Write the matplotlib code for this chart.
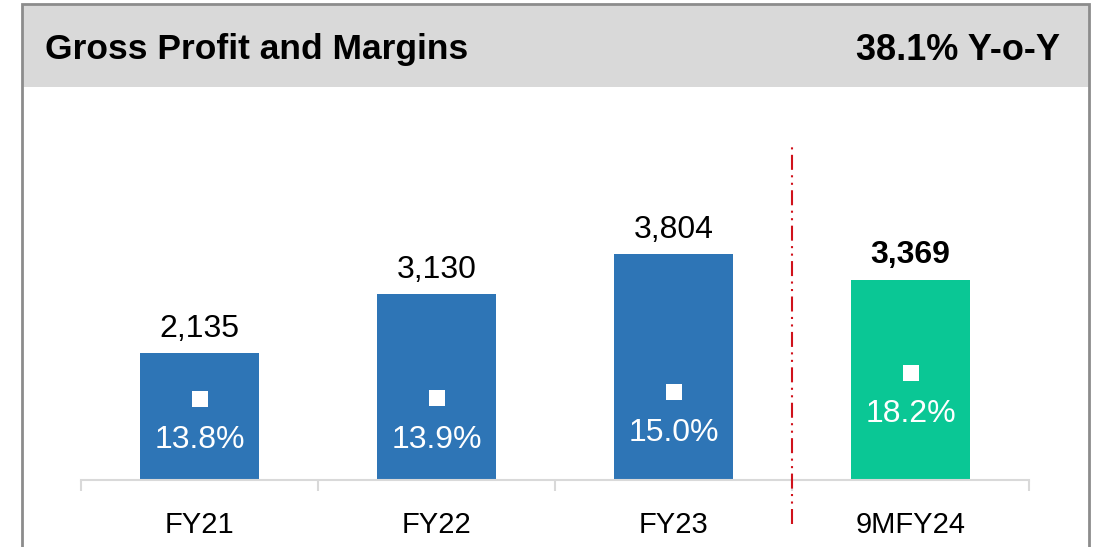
import matplotlib
matplotlib.use("Agg")
import matplotlib.pyplot as plt
from matplotlib.patches import Rectangle
import numpy as np

plt.rcParams['font.family'] = ['Liberation Sans', 'DejaVu Sans']

categories = ["FY21", "FY22", "FY23", "9MFY24"]
gross_profit = [2135, 3130, 3804, 3369]
margins = [13.8, 13.9, 15.0, 18.2]
value_labels = ["2,135", "3,130", "3,804", "3,369"]
margin_labels = ["13.8%", "13.9%", "15.0%", "18.2%"]
bar_colors = ["#2E75B6", "#2E75B6", "#2E75B6", "#0AC795"]
title = "Gross Profit and Margins"
yoy = "38.1% Y-o-Y"

W, H = 1097, 547
fig = plt.figure(figsize=(W / 100, H / 100), dpi=100)

# frame + header band (pixel coords -> figure fraction)
def px(x, y):
    return x / W, 1 - y / H

hx, hy = px(22, 87)
fig.patches.append(Rectangle((hx, hy), (1089 - 22) / W, (87 - 4) / H,
                             transform=fig.transFigure, facecolor="#D9D9D9",
                             edgecolor="none", zorder=0))
bx, by = px(22, 560)
fig.patches.append(Rectangle((bx, by), (1089 - 22) / W, (560 - 4) / H,
                             transform=fig.transFigure, facecolor="none",
                             edgecolor="#8C8C8C", linewidth=2, zorder=1,
                             clip_on=False))
fig.text(45 / W, 1 - 50 / H, title, fontsize=25.5, fontweight="bold",
         ha="left", va="center")
fig.text(1060 / W, 1 - 50 / H, yoy, fontsize=26, fontweight="bold",
         ha="right", va="center")

# plot area: baseline at y=480px, top at 140px, x from 81 to 1029
left, right, base, top = 81, 1029, 480, 140
ax = fig.add_axes([left / W, 1 - base / H, (right - left) / W, (base - top) / H])
ax.patch.set_alpha(0)
x = np.arange(len(categories))
ax.bar(x, gross_profit, width=0.5, color=bar_colors, zorder=2)
ax.set_xlim(-0.5, 3.5)
ax.set_ylim(0, (base - top) * 16.85)

for sp in ["top", "right", "left"]:
    ax.spines[sp].set_visible(False)
ax.spines["bottom"].set_color("#D9D9D9")
ax.spines["bottom"].set_linewidth(1.5)
ax.set_yticks([])
ax.set_xticks(x)
ax.set_xticklabels(categories, fontsize=21)
ax.tick_params(axis="x", which="major", length=0, pad=22)
ax.set_xticks(np.arange(-0.5, 4.0, 1.0), minor=True)
ax.tick_params(axis="x", which="minor", length=8, width=1.5, color="#D9D9D9")

for i, (v, lab) in enumerate(zip(gross_profit, value_labels)):
    ax.annotate(lab, (x[i], v), xytext=(0, 7), textcoords="offset points",
                ha="center", va="bottom", fontsize=23,
                fontweight="bold" if i == 3 else "normal")

# margins on a secondary scale
ax2 = ax.twinx()
ax2.set_ylim(0, (base - top) / 5.9)
ax2.plot(x, margins, linestyle="none", marker="s", markersize=11,
         color="white", markeredgewidth=0, zorder=3)
for sp in ax2.spines.values():
    sp.set_visible(False)
ax2.set_yticks([])
for i, (m, lab) in enumerate(zip(margins, margin_labels)):
    ax2.annotate(lab, (x[i], m), xytext=(0, -30), textcoords="offset points",
                 ha="center", va="center", fontsize=23, color="white")

# divider between full years and 9M
ax.plot([2.5, 2.5], [-0.13, 0.99], transform=ax.get_xaxis_transform(),
        color="#D0121B", linewidth=1.5, clip_on=False, zorder=4,
        linestyle=(0, (7.2, 2.6, 1, 2.6, 1, 2.6)))

fig.savefig("out.png", dpi=100)
